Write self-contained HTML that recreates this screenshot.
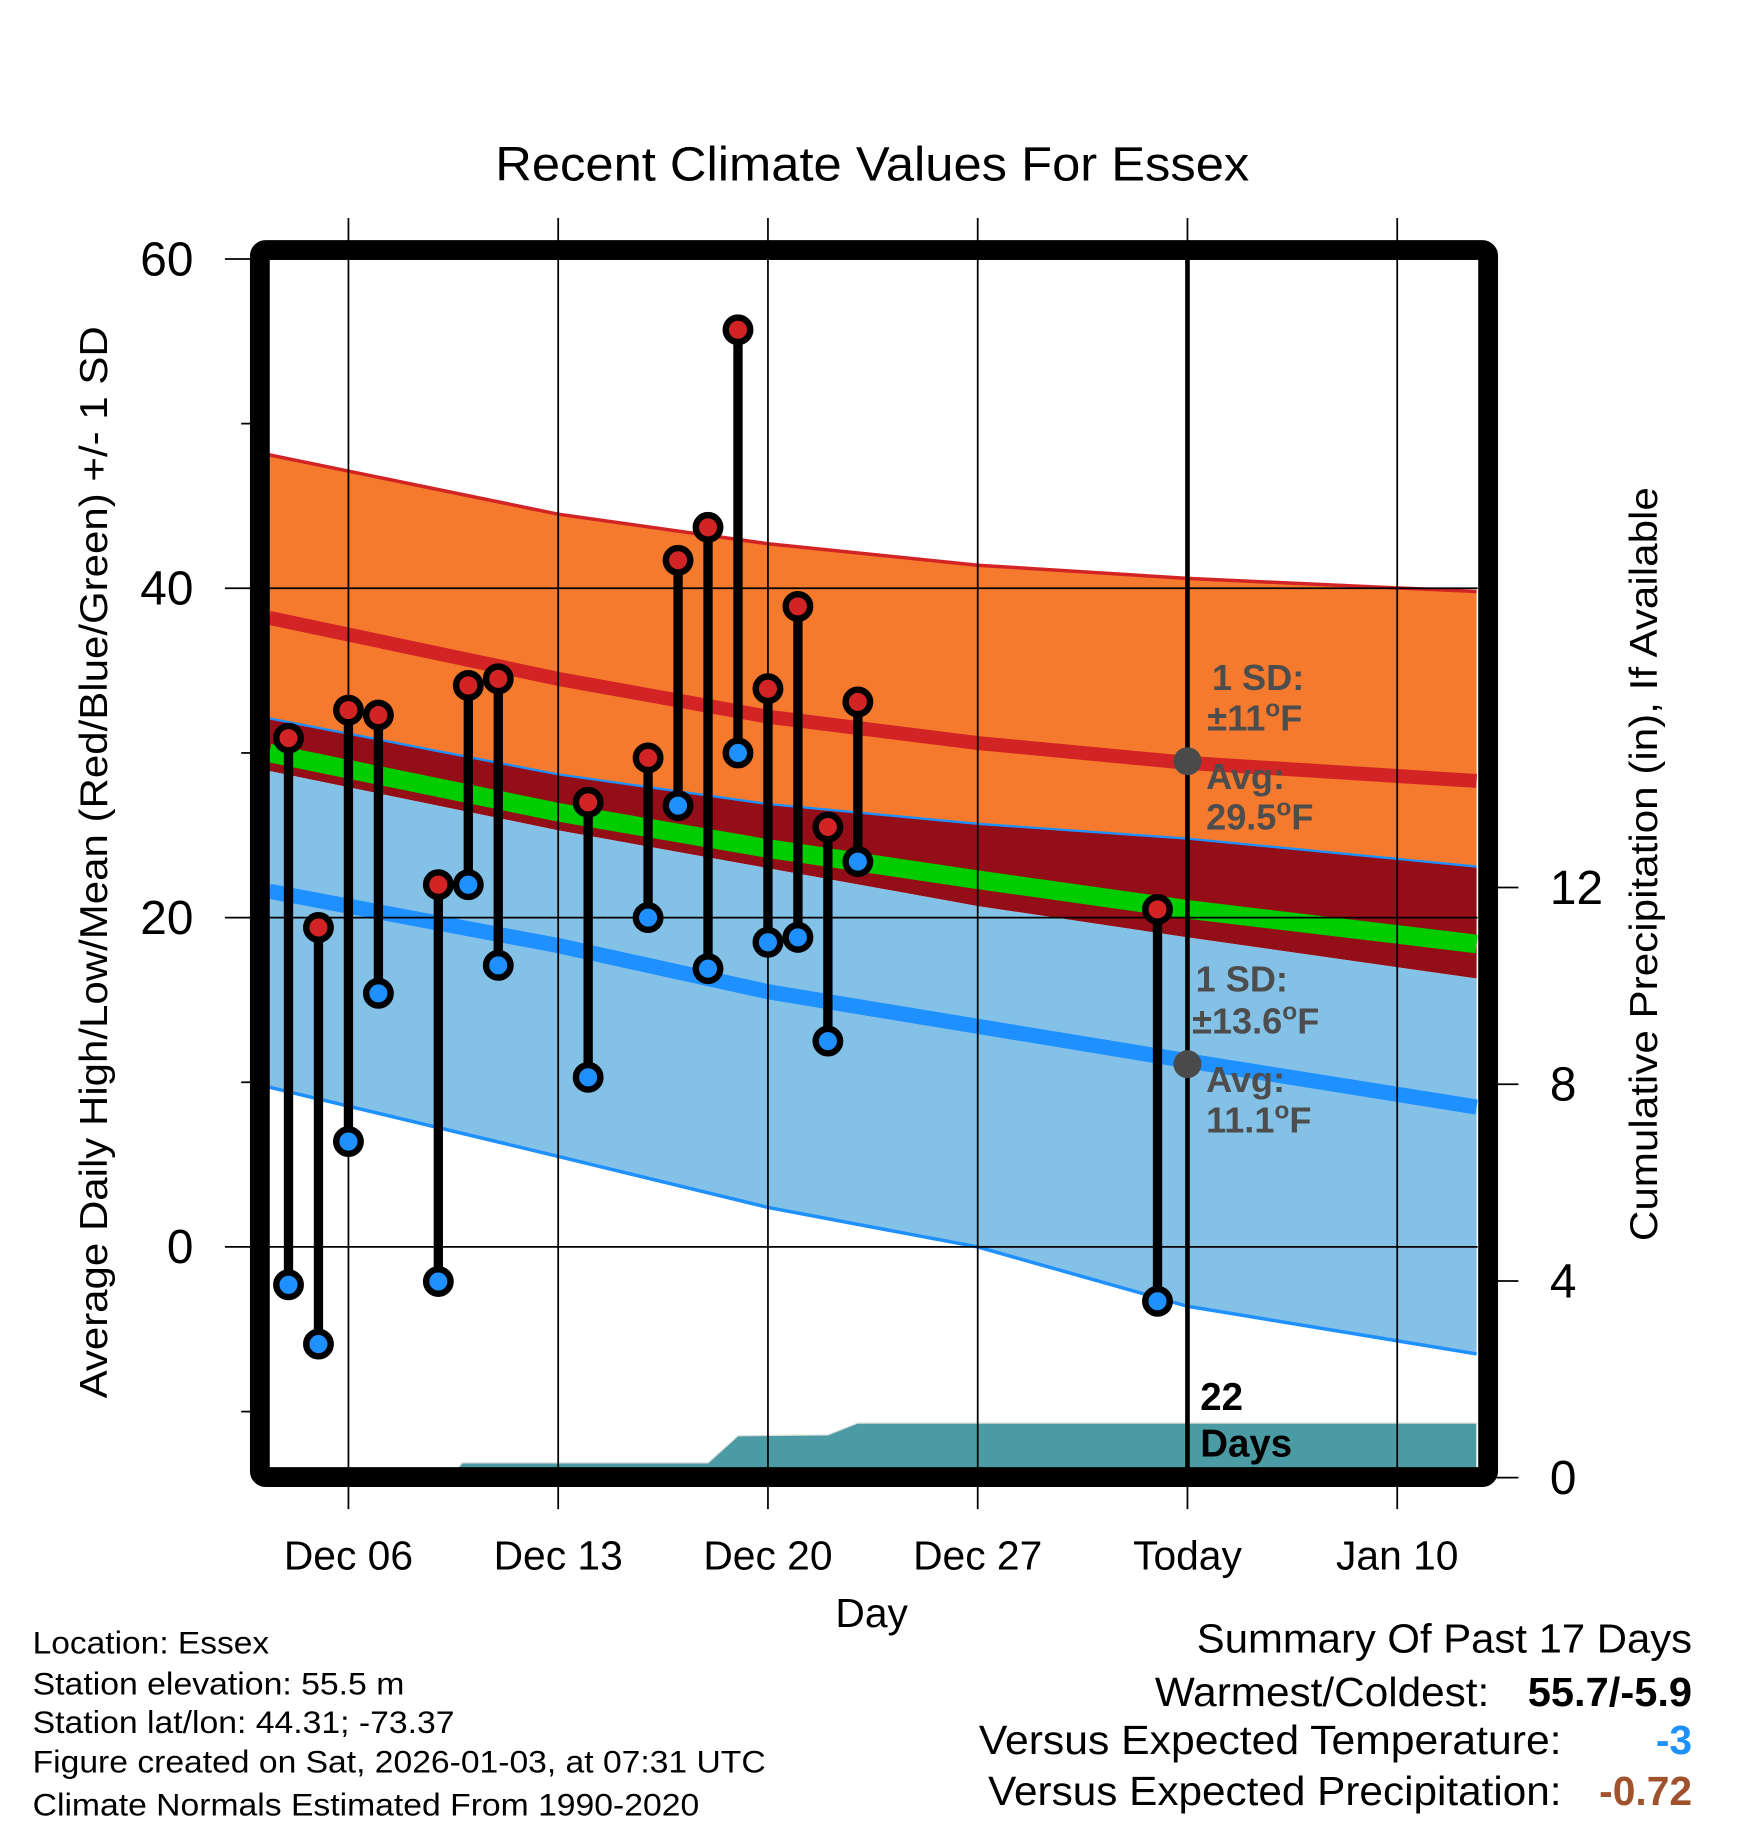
<!DOCTYPE html>
<html><head><meta charset="utf-8">
<style>
html,body{margin:0;padding:0;background:#fff;}
svg{display:block;font-family:"Liberation Sans",Arial,sans-serif;}
</style></head>
<body>
<svg id="chart" width="1748" height="1828" viewBox="0 0 1500 1568.6" xmlns="http://www.w3.org/2000/svg">
<defs><clipPath id="plotclip"><rect x="231" y="222" width="1037" height="1038"/></clipPath></defs>
<text x="425" y="155" font-size="41" textLength="647" lengthAdjust="spacingAndGlyphs">Recent Climate Values For Essex</text>
<g id="bands" clip-path="url(#plotclip)"></g>
<g id="grid"></g>
<g id="marks"></g>
<g id="annot"></g>
<rect x="223" y="214.5" width="1054" height="1053" rx="5" fill="none" stroke="#000" stroke-width="17"/>
<g id="axes"></g>
<text x="748" y="1396" font-size="35" text-anchor="middle">Day</text>
<text transform="translate(92,1200) rotate(-90)" font-size="33" textLength="920" lengthAdjust="spacingAndGlyphs">Average Daily High/Low/Mean (Red/Blue/Green) +/- 1 SD</text>
<text transform="translate(1422,1065) rotate(-90)" font-size="33" textLength="647" lengthAdjust="spacingAndGlyphs">Cumulative Precipitation (in), If Available</text>
<g font-size="27">
<text x="28" y="1419" textLength="203" lengthAdjust="spacingAndGlyphs">Location: Essex</text>
<text x="28" y="1454" textLength="319" lengthAdjust="spacingAndGlyphs">Station elevation: 55.5 m</text>
<text x="28" y="1487" textLength="362" lengthAdjust="spacingAndGlyphs">Station lat/lon: 44.31; -73.37</text>
<text x="28" y="1521" textLength="629" lengthAdjust="spacingAndGlyphs">Figure created on Sat, 2026-01-03, at 07:31 UTC</text>
<text x="28" y="1558" textLength="572" lengthAdjust="spacingAndGlyphs">Climate Normals Estimated From 1990-2020</text>
</g>
<g font-size="35">
<text x="1027" y="1418" textLength="425" lengthAdjust="spacingAndGlyphs">Summary Of Past 17 Days</text>
<text x="991" y="1464" textLength="287" lengthAdjust="spacingAndGlyphs">Warmest/Coldest:</text>
<text x="1311" y="1464" font-weight="bold" textLength="141" lengthAdjust="spacingAndGlyphs">55.7/-5.9</text>
<text x="840" y="1505" textLength="500" lengthAdjust="spacingAndGlyphs">Versus Expected Temperature:</text>
<text x="1452" y="1505" text-anchor="end" font-weight="bold" fill="#1e90ff">-3</text>
<text x="848" y="1549" textLength="492" lengthAdjust="spacingAndGlyphs">Versus Expected Precipitation:</text>
<text x="1452" y="1549" text-anchor="end" font-weight="bold" fill="#a0522d">-0.72</text>
</g>
</svg>
<script>
// Observations (day offset from Dec 06)
const obsDays = [-2,-1,0,1,3,4,5,8,10,11,12,13,14,15,16,17,27];
const highs = [30.9,19.4,32.6,32.3,22.0,34.1,34.5,27.0,29.7,41.7,43.7,55.7,33.9,38.9,25.5,33.1,20.5];
const lows = [-2.3,-5.9,6.4,15.4,-2.1,22.0,17.1,10.3,20.0,26.8,16.9,30.0,18.5,18.8,12.5,23.4,-3.3];
// Normals
const normDays = [-2.64,7,14,21,28,37.65];
const highPlusSD = [48.1,44.5,42.7,41.4,40.6,39.8];
const highMean = [38.2,34.5,32.2,30.6,29.4,28.3];
const orangeLow = [32.1,28.7,26.9,25.7,24.8,23.1];
const meanTemp = [30.0,26.4,24.2,22.3,20.5,18.4];
const darkRedLow = [28.9,25.3,23.0,20.7,18.8,16.3];
const lowMean = [21.6,18.3,15.5,13.4,11.3,8.5];
const lowMinusSD = [9.7,5.5,2.4,0.0,-3.6,-6.5];
// Precipitation (cumulative inches)
const precipDays = [-2.64,3.4,3.8,12.0,13.0,16.0,17.0,37.65];
const precipVals = [0,0,0.3,0.3,0.85,0.87,1.11,1.11];
// Ticks
const yTicks = [60,40,20,0];
const yMinor = [50,30,10,-10];
const xTickDays = [0,7,14,21,28,35];
const xTickLabels = ["Dec 06","Dec 13","Dec 20","Dec 27","Today","Jan 10"];
const pTicks = [12,8,4,0];

const NS="http://www.w3.org/2000/svg";
const X=d=>299+d*25.714;
const Y=t=>1070-(t-0)*14.13;
const P=p=>1268-p*42.2;
function mk(tag,attrs,parent){const e=document.createElementNS(NS,tag);for(const k in attrs)e.setAttribute(k,attrs[k]);parent.appendChild(e);return e;}
const bands=document.getElementById('bands'),grid=document.getElementById('grid'),marks=document.getElementById('marks'),axes=document.getElementById('axes'),annot=document.getElementById('annot');
function pts(days,vals,fy){return days.map((d,i)=>X(d).toFixed(1)+','+fy(vals[i]).toFixed(1));}
function band(top,bot,fill,name){
  const p=pts(normDays,top,Y).concat(pts(normDays,bot,Y).reverse());
  const e=mk('polygon',{points:p.join(' '),fill:fill},bands);
  
  
}
function line(vals,color,w,name){
  const e=mk('polyline',{points:pts(normDays,vals,Y).join(' '),fill:'none',stroke:color,'stroke-width':w},bands);
  
  
}
band(highPlusSD,orangeLow,'#f57a2d','high-sd-band');
band(orangeLow,darkRedLow,'#930e16','overlap-band');
band(darkRedLow,lowMinusSD,'#83c1e7','low-sd-band');
line(highPlusSD,'#d22424',3,'high-plus-sd-line');
line(orangeLow,'#1e90ff',2,'high-minus-sd-line');
line(lowMinusSD,'#1e90ff',3,'low-minus-sd-line');
line(highMean,'#d22424',12,'high-mean-line');
line(meanTemp,'#00cc00',16,'mean-line');
line(lowMean,'#1e90ff',13,'low-mean-line');
// precip
{const p=pts(precipDays,precipVals,P);p.push(X(37.65)+','+P(0),X(-2.64)+','+P(0));
const e=mk('polygon',{points:p.join(' '),fill:'#4a9ba3',stroke:'#ddd','stroke-width':1},bands);

}
// grid
yTicks.forEach(t=>{
  const g=mk('line',{x1:193,x2:1268,y1:Y(t),y2:Y(t),stroke:'#000','stroke-width':1.5},grid);
  
  
  const l=mk('text',{x:166,y:Y(t)+14,'font-size':41,'text-anchor':'end'},axes);l.textContent=t;
  
  
});
yMinor.forEach(t=>{
  const g=mk('line',{x1:207,x2:215,y1:Y(t),y2:Y(t),stroke:'#000','stroke-width':1.5},grid);
  
  
});
xTickDays.forEach((d,i)=>{
  const g=mk('line',{x1:X(d),x2:X(d),y1:187,y2:1295,stroke:'#000','stroke-width':1.5},grid);
  
  
  const l=mk('text',{x:X(d),y:1347,'font-size':35,'text-anchor':'middle'},axes);l.textContent=xTickLabels[i];
  
  
});
pTicks.forEach(p=>{
  const g=mk('line',{x1:1277,x2:1303,y1:P(p),y2:P(p),stroke:'#000','stroke-width':1.5},axes);
  
  
  const l=mk('text',{x:1330,y:P(p)+14,'font-size':41},axes);l.textContent=p;
  
  
});
// today line
{const e=mk('line',{x1:X(28),x2:X(28),y1:222,y2:1260,stroke:'#000','stroke-width':4},grid);

}
// stems
obsDays.forEach((d,i)=>{
  const s=mk('line',{x1:X(d),x2:X(d),y1:Y(highs[i]),y2:Y(lows[i]),stroke:'#000','stroke-width':8},marks);
  
  
});
obsDays.forEach((d,i)=>{
  const h=mk('circle',{cx:X(d),cy:Y(highs[i]),r:10.5,fill:'#d22424',stroke:'#000','stroke-width':5.5},marks);
  
  
  const l=mk('circle',{cx:X(d),cy:Y(lows[i]),r:10.5,fill:'#1e90ff',stroke:'#000','stroke-width':5.5},marks);
  
  
});
// annotations
const annHigh=29.5, annLow=11.1;
[[annHigh,'normal-high-dot'],[annLow,'normal-low-dot']].forEach(a=>{
  const c=mk('circle',{cx:X(28),cy:Y(a[0]),r:12,fill:'#4a4a4a'},annot);
  
  
});
function at(x,y,txt,name,fill,size){const t=mk('text',{x:x,y:y,'font-size':size||31,'font-weight':'bold',fill:fill||'#4d4d4d'},annot);t.innerHTML=txt;

}
at(1040,592,'1 SD:','high-sd-label');
at(1036,627,'±11<tspan font-size="21" dy="-12">o</tspan><tspan dy="12">F</tspan>','high-sd-value');
at(1035,677,'Avg:','high-avg-label');
at(1035,712,'29.5<tspan font-size="21" dy="-12">o</tspan><tspan dy="12">F</tspan>','high-avg-value');
at(1026,851,'1 SD:','low-sd-label');
at(1023,887,'±13.6<tspan font-size="21" dy="-12">o</tspan><tspan dy="12">F</tspan>','low-sd-value');
at(1035,937,'Avg:','low-avg-label');
at(1035,972,'11.1<tspan font-size="21" dy="-12">o</tspan><tspan dy="12">F</tspan>','low-avg-value');
at(1030,1210,'22','days-count','#000',33);
at(1030,1250,'Days','days-label','#000',33);
</script>
</body></html>
